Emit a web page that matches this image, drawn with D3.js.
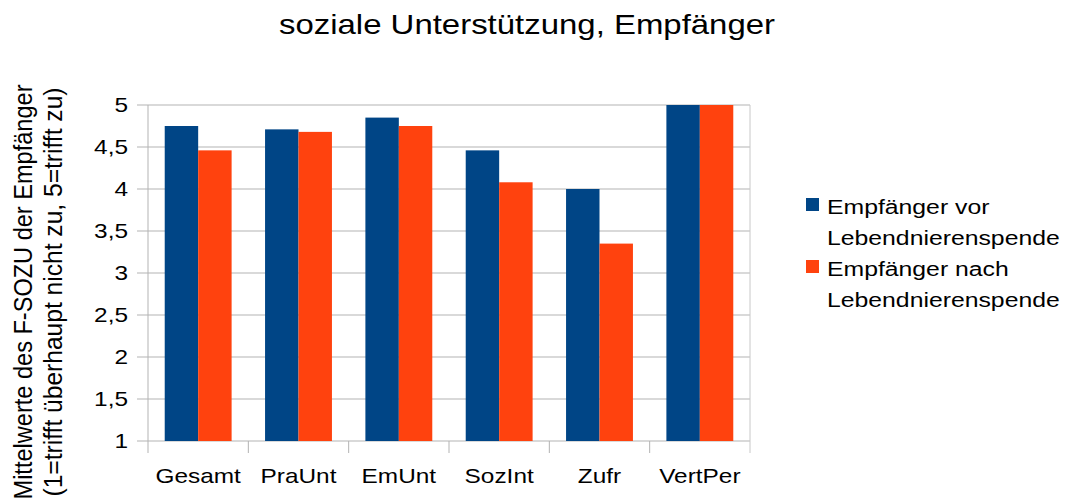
<!DOCTYPE html>
<html>
  <head>
    <title>soziale Unterstützung, Empfänger</title>
    <meta charset="UTF-8">
    <script src="https://d3js.org/d3.v7.min.js"></script>
    <style type="text/css">
      body {
        margin: 0px;
        padding: 0px;
        background: #fff;
      }
      text {
        font-family: "Liberation Sans", Arial, sans-serif;
        fill: #000;
      }
    </style>
  </head>
  <body>
    <div id="chart"></div>
    <script>
      const categories = ['Gesamt', 'PraUnt', 'EmUnt', 'SozInt', 'Zufr', 'VertPer'];
      const valuesBefore = [4.75, 4.71, 4.85, 4.46, 4.0, 5.0];
      const valuesAfter = [4.46, 4.68, 4.75, 4.08, 3.35, 5.0];
      const seriesLabels = [
        ['Empfänger vor', 'Lebendnierenspende'],
        ['Empfänger nach', 'Lebendnierenspende']
      ];
      const seriesColors = ['#004586', '#ff420e'];
      const yTicks = [1, 1.5, 2, 2.5, 3, 3.5, 4, 4.5, 5];
      const title = 'soziale Unterstützung, Empfänger';
      const yTitle = ['Mittelwerte des F-SOZU der Empfänger', '(1=trifft überhaupt nicht zu, 5=trifft zu)'];

      const width = 1072, height = 502;
      const plot = { left: 148, right: 750, top: 105, bottom: 441 };
      const sx = 1.22; // the original text is rendered a bit wider than normal

      const svg = d3.select('#chart').append('svg')
        .attr('width', width)
        .attr('height', height);

      const x = d3.scaleBand()
        .domain(categories)
        .range([plot.left, plot.right]);
      const xInner = d3.scaleBand()
        .domain([0, 1])
        .range([x.bandwidth() / 6, x.bandwidth() * 5 / 6]);
      const y = d3.scaleLinear()
        .domain([1, 5])
        .range([plot.bottom, plot.top]);

      const wideText = (g, tx, ty, str, size, anchor, k = sx) => g.append('text')
        .attr('transform', `translate(${tx},${ty}) scale(${k},1)`)
        .attr('font-size', size)
        .attr('text-anchor', anchor)
        .text(str);

      // gridlines + y ticks
      svg.append('g').selectAll('line')
        .data(yTicks).enter().append('line')
        .attr('x1', plot.left - 11)
        .attr('x2', plot.right)
        .attr('y1', d => y(d))
        .attr('y2', d => y(d))
        .attr('stroke', '#b3b3b3');

      // axis frame
      svg.append('line')
        .attr('x1', plot.left).attr('x2', plot.left)
        .attr('y1', plot.top).attr('y2', plot.bottom)
        .attr('stroke', '#b3b3b3');
      svg.append('line')
        .attr('x1', plot.right).attr('x2', plot.right)
        .attr('y1', plot.top).attr('y2', plot.bottom + 12)
        .attr('stroke', '#c8c8c8');

      // x ticks at category borders
      svg.append('g').selectAll('line')
        .data(categories).enter().append('line')
        .attr('x1', d => x(d))
        .attr('x2', d => x(d))
        .attr('y1', plot.bottom)
        .attr('y2', plot.bottom + 12)
        .attr('stroke', '#b3b3b3');

      // bars
      const series = [valuesBefore, valuesAfter];
      series.forEach((vals, s) => {
        svg.append('g').selectAll('rect')
          .data(vals).enter().append('rect')
          .attr('x', (d, i) => x(categories[i]) + xInner(s))
          .attr('width', xInner.bandwidth())
          .attr('y', d => y(d))
          .attr('height', d => y(1) - y(d))
          .attr('fill', seriesColors[s]);
      });

      // y tick labels
      const fmt = d => String(d).replace('.', ',');
      yTicks.forEach(t => {
        wideText(svg, 128, y(t) + 7, fmt(t), 20, 'end');
      });

      // category labels
      categories.forEach(c => {
        wideText(svg, x(c) + x.bandwidth() / 2, 483, c, 20, 'middle');
      });

      // title
      wideText(svg, 527, 34, title, 27, 'middle');

      // y axis title, two lines
      const yLen = [415, 409];
      yTitle.forEach((line, i) => {
        svg.append('text')
          .attr('transform', `translate(${32 + i * 30},292) scale(1.2,1) rotate(-90)`)
          .attr('font-size', 22)
          .attr('text-anchor', 'middle')
          .attr('textLength', yLen[i])
          .attr('lengthAdjust', 'spacingAndGlyphs')
          .text(line);
      });

      // legend
      const legend = svg.append('g');
      seriesLabels.forEach((lines, s) => {
        const top = 198 + s * 62;
        legend.append('rect')
          .attr('x', 806)
          .attr('y', top)
          .attr('width', 13)
          .attr('height', 13)
          .attr('fill', seriesColors[s]);
        lines.forEach((l, k) => {
          wideText(legend, 827, top + 16 + k * 31, l, 21, 'start', 1.18);
        });
      });
    </script>
  </body>
</html>
